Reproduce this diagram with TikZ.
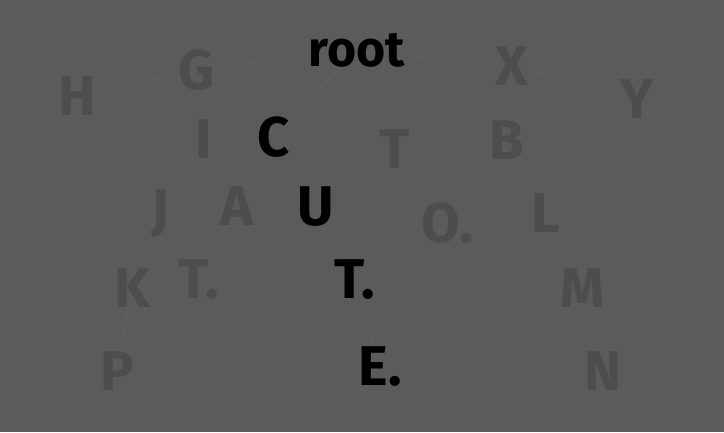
\documentclass[tikz,border=0pt]{standalone}
\usepackage{fontspec}
\setmainfont{Fira Sans}
\definecolor{bgc}{RGB}{91,91,94}
\definecolor{faint}{RGB}{77,77,80}
\definecolor{edgec}{RGB}{98,98,101}
\begin{document}
\begin{tikzpicture}[x=1pt,y=-1pt,
  lt/.style={font=\fontsize{56}{56}\selectfont\bfseries, text=faint, inner sep=3pt},
  dk/.style={font=\fontsize{56}{56}\selectfont\bfseries, text=black, inner sep=3pt},
  ed/.style={draw=edgec, line width=0.7pt}]
\fill[bgc] (0,0) rectangle (724,432);
\useasboundingbox (0,0) rectangle (724,432);
\node[dk, font=\fontsize{50}{50}\selectfont\bfseries] (root) at (357,50) {root};
\node[lt] (G) at (197,70) {G};
\node[lt] (H) at (77,96) {H};
\node[lt] (X) at (512,66) {X};
\node[lt] (Y) at (637,99) {Y};
\node[lt] (I) at (204,139) {I};
\node[dk] (C) at (274,137) {C};
\node[lt] (T1) at (395,149) {T};
\node[lt] (B) at (507,140) {B};
\node[lt] (J) at (160,214) {J};
\node[lt] (A) at (237,206) {A};
\node[dk] (U) at (316,207) {U};
\node[lt] (O) at (447,223) {O.};
\node[lt] (L) at (546,213) {L};
\node[lt] (K) at (132,288) {K};
\node[lt] (T2) at (199,280) {T.};
\node[dk] (T3) at (355,280) {T.};
\node[lt] (M) at (583,288) {M};
\node[lt] (P) at (117,371) {P};
\node[dk] (E) at (380,367) {E.};
\node[lt] (N) at (603,371) {N};
\draw[ed] (root) -- (G);
\draw[ed] (G) -- (H);
\draw[ed] (root) -- (I);
\draw[ed] (I) -- (J);
\draw[ed] (J) -- (K);
\draw[ed] (K) -- (P);
\draw[ed] (root) -- (C);
\draw[ed] (C) -- (A);
\draw[ed] (A) -- (T2);
\draw[ed] (C) -- (U);
\draw[ed] (U) -- (T3);
\draw[ed] (T3) -- (E);
\draw[ed] (root) -- (T1);
\draw[ed] (T1) -- (O);
\draw[ed] (root) -- (X);
\draw[ed] (X) -- (Y);
\draw[ed] (root) -- (B);
\draw[ed] (B) -- (L);
\draw[ed] (L) -- (M);
\draw[ed] (M) -- (N);
\end{tikzpicture}
\end{document}
